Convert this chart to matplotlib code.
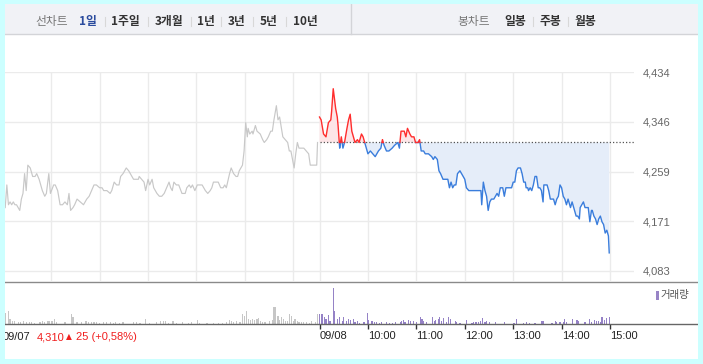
import numpy as np
import matplotlib
matplotlib.use("Agg")
import matplotlib.pyplot as plt
from matplotlib.patches import Rectangle
from matplotlib.lines import Line2D

plt.rcParams['font.family'] = ['Liberation Sans', 'Noto Sans CJK KR', 'DejaVu Sans']

# ---------------- data ----------------
# 09/07 (previous day) minutes after 09:00 and price
day1_min = [3, 5, 7, 9, 11, 13, 15, 17, 19, 21,
            23, 25, 27, 29, 31, 34, 37, 40, 42, 45,
            49, 52, 54, 57, 59, 63, 65, 68, 71, 74,
            77, 80, 82, 84, 87, 89, 92, 96, 100, 104,
            107, 110, 113, 116, 120, 123, 125, 129, 133, 135,
            138, 141, 144, 146, 149, 153, 156, 158, 162, 165,
            168, 169, 172, 175, 177, 180, 182, 185, 187, 191,
            194, 197, 200, 203, 206, 208, 210, 212, 215, 218,
            222, 226, 228, 231, 233, 235, 238, 241, 244, 247,
            251, 254, 257, 259, 261, 264, 267, 270, 273, 275,
            277, 281, 283, 286, 289, 291, 293, 295, 297, 299,
            301, 303, 304, 306, 309, 310, 313, 315, 319, 322,
            324, 327, 329, 332, 334, 336, 339, 341, 343, 347,
            350, 353, 355, 357, 359, 361, 363, 365, 367, 370,
            373, 376, 379, 381, 385, 389, 390]
day1_price = [4195, 4235, 4200, 4205, 4200, 4205, 4200, 4200, 4195, 4190,
              4210, 4220, 4255, 4225, 4270, 4265, 4250, 4250, 4255, 4245,
              4225, 4215, 4220, 4255, 4220, 4235, 4235, 4225, 4200, 4200,
              4205, 4200, 4220, 4190, 4195, 4200, 4210, 4205, 4200, 4210,
              4215, 4225, 4235, 4235, 4230, 4230, 4225, 4225, 4220, 4225,
              4240, 4235, 4235, 4250, 4255, 4265, 4260, 4255, 4245, 4245,
              4245, 4250, 4245, 4240, 4225, 4245, 4235, 4245, 4230, 4220,
              4215, 4215, 4220, 4230, 4240, 4230, 4225, 4240, 4235, 4235,
              4220, 4220, 4230, 4235, 4230, 4235, 4225, 4235, 4235, 4235,
              4225, 4220, 4225, 4230, 4240, 4240, 4240, 4230, 4230, 4235,
              4230, 4255, 4265, 4255, 4250, 4250, 4260, 4265, 4270, 4295,
              4345, 4320, 4335, 4325, 4330, 4325, 4340, 4330, 4325, 4315,
              4310, 4315, 4320, 4330, 4330, 4350, 4375, 4350, 4355, 4320,
              4315, 4310, 4295, 4295, 4280, 4265, 4290, 4310, 4300, 4300,
              4300, 4295, 4290, 4270, 4270, 4270, 4310]

# 09/08 (today)
day2_min = [0, 2, 5, 8, 11, 14, 15, 17, 20, 22,
            23, 25, 26, 27, 29, 31, 34, 36, 38, 40,
            42, 44, 47, 49, 52, 54, 56, 58, 60, 63,
            66, 69, 73, 76, 78, 80, 83, 86, 90, 93,
            97, 99, 101, 105, 107, 109, 112, 114, 117, 119,
            122, 124, 126, 129, 131, 135, 139, 141, 143, 146,
            148, 150, 153, 157, 159, 161, 163, 165, 167, 169,
            171, 174, 176, 178, 180, 182, 185, 188, 191, 194,
            197, 200, 201, 203, 205, 207, 209, 211, 213, 216,
            218, 220, 222, 224, 227, 229, 231, 234, 238, 240,
            242, 244, 246, 249, 251, 253, 255, 256, 258, 259,
            261, 263, 265, 267, 269, 271, 273, 275, 277, 278,
            282, 284, 286, 288, 290, 292, 294, 296, 298, 300,
            302, 304, 306, 308, 311, 313, 315, 317, 318, 320,
            322, 323, 325, 327, 329, 331, 333, 335, 337, 338,
            340, 342, 344, 346, 348, 350, 352, 354, 356, 358,
            359]
day2_price = [4355, 4350, 4325, 4320, 4345, 4350, 4365, 4405, 4370, 4355,
              4340, 4300, 4310, 4320, 4300, 4310, 4335, 4350, 4360, 4330,
              4320, 4310, 4315, 4310, 4325, 4320, 4310, 4300, 4290, 4295,
              4290, 4285, 4295, 4300, 4315, 4305, 4295, 4295, 4300, 4305,
              4310, 4300, 4330, 4330, 4320, 4335, 4325, 4320, 4320, 4310,
              4310, 4315, 4295, 4295, 4290, 4290, 4285, 4280, 4285, 4280,
              4260, 4255, 4245, 4245, 4245, 4230, 4240, 4230, 4235, 4235,
              4255, 4260, 4255, 4250, 4245, 4230, 4225, 4225, 4225, 4225,
              4225, 4225, 4200, 4240, 4225, 4215, 4190, 4205, 4210, 4210,
              4215, 4220, 4215, 4230, 4230, 4215, 4230, 4230, 4230, 4240,
              4240, 4260, 4265, 4265, 4255, 4240, 4240, 4230, 4230, 4225,
              4230, 4225, 4235, 4250, 4250, 4230, 4230, 4225, 4205, 4235,
              4235, 4225, 4210, 4210, 4210, 4200, 4210, 4215, 4235, 4230,
              4215, 4210, 4200, 4210, 4195, 4205, 4195, 4185, 4180, 4180,
              4175, 4195, 4200, 4205, 4195, 4195, 4195, 4170, 4190, 4190,
              4180, 4175, 4165, 4175, 4180, 4170, 4165, 4150, 4155, 4145,
              4115]

prev_close = 4310

# volume (relative units)
vol1_min = [3, 7, 9, 12, 15, 19, 22, 26, 29, 33,
            36, 39, 46, 49, 52, 56, 58, 61, 64, 67,
            77, 85, 87, 92, 98, 103, 106, 110, 113, 116,
            120, 125, 129, 133, 137, 140, 145, 149, 162, 166,
            170, 177, 182, 190, 195, 199, 202, 205, 211, 215,
            223, 230, 234, 241, 244, 253, 261, 267, 272, 277,
            281, 283, 286, 290, 294, 297, 300, 302, 304, 307,
            309, 312, 315, 317, 319, 322, 325, 331, 334, 336,
            338, 341, 343, 345, 348, 350, 353, 355, 358, 360,
            362, 365, 367, 370, 373, 376, 380, 383, 387, 390]
vol1 = [33, 38, 15, 10, 8, 5, 6, 8, 5, 5,
        5, 4, 6, 8, 5, 8, 10, 10, 14, 5,
        5, 30, 20, 5, 6, 8, 6, 6, 5, 5,
        4, 5, 5, 5, 4, 7, 4, 5, 6, 5,
        4, 15, 4, 5, 8, 10, 8, 4, 8, 4,
        5, 4, 5, 12, 4, 4, 4, 4, 4, 5,
        13, 8, 5, 8, 5, 30, 25, 38, 15, 12,
        15, 12, 15, 18, 10, 6, 5, 10, 12, 52,
        50, 25, 12, 20, 15, 10, 8, 30, 25, 10,
        15, 8, 6, 6, 5, 5, 4, 10, 5, 30]
vol2_min = [0, 3, 6, 8, 11, 13, 17, 19, 22, 25,
            28, 30, 33, 36, 38, 42, 44, 47, 50, 54,
            56, 59, 61, 65, 68, 71, 74, 77, 83, 87,
            90, 94, 100, 102, 104, 106, 110, 113, 116, 120,
            125, 127, 129, 133, 140, 142, 144, 147, 149, 151,
            154, 157, 160, 162, 168, 170, 174, 182, 189, 191,
            194, 197, 200, 202, 205, 207, 211, 218, 229, 241,
            244, 253, 257, 260, 267, 275, 277, 288, 292, 294,
            298, 302, 304, 306, 314, 319, 321, 329, 335, 337,
            341, 343, 346, 348, 350, 353, 356, 359]
vol2 = [30, 30, 20, 15, 28, 10, 108, 40, 15, 22,
        10, 20, 10, 15, 12, 15, 5, 8, 4, 6,
        5, 32, 12, 8, 5, 5, 4, 5, 5, 4,
        3, 5, 6, 8, 12, 5, 12, 8, 10, 5,
        22, 15, 8, 5, 22, 10, 12, 15, 20, 8,
        18, 5, 20, 15, 8, 5, 4, 12, 4, 6,
        5, 6, 8, 18, 5, 10, 6, 5, 5, 4,
        15, 3, 6, 4, 3, 8, 10, 4, 8, 5,
        5, 6, 15, 5, 14, 12, 10, 6, 15, 5,
        12, 8, 10, 6, 20, 12, 18, 22]

ytick_vals = [4083, 4170.75, 4258.5, 4346.25, 4434]
ytick_labels = ['4,083', '4,171', '4,259', '4,346', '4,434']
day2_hours = [0, 60, 120, 180, 240, 300, 360]
xtick_labels = ['09/08', '10:00', '11:00', '12:00', '13:00', '14:00', '15:00']

header_left = ['1일', '1주일', '3개월', '1년', '3년', '5년', '10년']
header_right = ['일봉', '주봉', '월봉']
info_price = '4,310'
info_change = '25 (+0,58%)'

# ---------------- layout helpers ----------------
W, H = 703, 364
fig = plt.figure(figsize=(W / 100, H / 100), dpi=100)
fig.patch.set_facecolor('white')


def fx(x):
    return x / W


def fy(y):
    return 1 - y / H


GAP = 0.041


def t1(m):
    return np.asarray(m, dtype=float) / 60.0


def t2(m):
    return 6.5 + GAP + np.asarray(m, dtype=float) / 60.0


XL = (0.0454, 13.036)

# ---------------- price panel ----------------
ax = fig.add_axes([fx(5), fy(281), fx(634) - fx(5), fy(72.3) - fy(281)])
ax.set_xlim(*XL)
ax.set_ylim(4065.3, 4434)
for s in ax.spines.values():
    s.set_visible(False)
grid_x = list(t1([60, 120, 180, 240, 300, 360])) + list(t2(day2_hours))
ax.set_xticks(grid_x)
ax.set_xticklabels([])
ax.tick_params(axis='x', length=0)
ax.set_yticks(ytick_vals)
ax.set_yticklabels(ytick_labels)
ax.yaxis.tick_right()
ax.tick_params(axis='y', length=0, pad=6.5, labelcolor='#666666', labelsize=8)
ax.grid(True, color='#ebebeb', lw=1)
ax.set_axisbelow(True)

# previous day
ax.plot(t1(day1_min), day1_price, color='#c8c8c8', lw=0.85, zorder=3)

# today, split around previous close
x2 = t2(day2_min)
y2 = np.asarray(day2_price, dtype=float)
xs, ys = [x2[0]], [y2[0]]
for i in range(1, len(x2)):
    a, b = y2[i - 1], y2[i]
    if (a - prev_close) * (b - prev_close) < 0:
        t = (prev_close - a) / (b - a)
        xs.append(x2[i - 1] + t * (x2[i] - x2[i - 1]))
        ys.append(prev_close)
    xs.append(x2[i])
    ys.append(b)
xs = np.array(xs)
ys = np.array(ys)

ax.fill_between(xs, ys, prev_close, where=ys >= prev_close, color='#fde5e7', lw=0, zorder=2)
ax.fill_between(xs, ys, prev_close, where=ys <= prev_close, color='#e5edf9', lw=0, zorder=2)
ax.plot([x2[0], XL[1]], [prev_close, prev_close], color='#555555', lw=0.9,
        ls=(0, (1, 1.6)), zorder=3)
ax.plot(xs, np.where(ys <= prev_close, ys, np.nan), color='#3a7ddc', lw=1.0, zorder=4)
ax.plot(xs, np.where(ys >= prev_close, ys, np.nan), color='#ff2d2d', lw=1.0, zorder=5)

# ---------------- volume panel ----------------
axv = fig.add_axes([fx(5), fy(324), fx(634) - fx(5), fy(282) - fy(324)])
axv.set_xlim(*XL)
axv.set_ylim(0, 126)
for s in axv.spines.values():
    s.set_visible(False)
axv.patch.set_alpha(0)
axv.bar(t1(vol1_min), vol1, width=0.024, color='#c6c6c6', lw=0, antialiased=False)
axv.bar(t2(vol2_min), vol2, width=0.024, color='#9582c6', lw=0, antialiased=False)
axv.set_yticks([])
axv.set_xticks(list(t2(day2_hours)))
axv.set_xticklabels(xtick_labels)
axv.tick_params(axis='x', direction='out', length=3.7, width=1, color='#333333',
                labelsize=8, labelcolor='#222222', pad=1.6)
for lab in axv.get_xticklabels():
    lab.set_horizontalalignment('left')

# panel lines
fig.add_artist(Line2D([fx(5), fx(697)], [fy(281.5), fy(281.5)], color='#8a8a8a', lw=1))
fig.add_artist(Line2D([fx(5), fx(697)], [fy(324.3), fy(324.3)], color='#666666', lw=1))

# volume legend
fig.add_artist(Rectangle((fx(656), fy(299.5)), fx(3), 8.5 / H, color='#9884c6', lw=0))
fig.text(fx(660), fy(295), '거래량', fontsize=7.5, color='#555555', va='center', ha='left',
         family=['Noto Sans CJK KR', 'DejaVu Sans'])

# bottom info
fig.text(fx(2.3), fy(337.5), '09/07', fontsize=8, color='#222222', va='center', ha='left')
fig.text(fx(36.5), fy(337.5), info_price, fontsize=8, color='#f01e1e', va='center', ha='left')
fig.text(fx(66.3), fy(336.8), '▲', fontsize=5.5, color='#f01e1e', va='center', ha='left',
         family=['DejaVu Sans'])
fig.text(fx(75.5), fy(337.5), info_change, fontsize=8, color='#f01e1e', va='center', ha='left')

# ---------------- header ----------------
fig.add_artist(Rectangle((fx(5), fy(34)), fx(693), 30 / H, facecolor='#f1f2f6', lw=0))
fig.add_artist(Line2D([fx(5), fx(698)], [fy(34), fy(34)], color='#d3d4d8', lw=1))
fig.add_artist(Line2D([fx(350.5), fx(350.5)], [fy(4), fy(34)], color='#d3d4d8', lw=1))

kr = ['Noto Sans CJK KR', 'DejaVu Sans']
hy = fy(21)
fig.text(fx(35.5), hy, '선차트', fontsize=8.5, color='#777777', va='center', ha='left', family=kr)
left_x = [79.5, 111.5, 154.5, 196.5, 227.5, 259.5, 292.5]
for i, (lab, x) in enumerate(zip(header_left, left_x)):
    fig.text(fx(x), hy, lab, fontsize=8.5, fontweight='bold',
             color='#2b4c9e' if i == 0 else '#333333', va='center', ha='left', family=kr)
for x in [105, 148, 191, 221, 253, 286, 533, 568]:
    fig.add_artist(Line2D([fx(x), fx(x)], [fy(16.5), fy(26)], color='#d8d8d8', lw=0.8))
fig.text(fx(457.5), hy, '봉차트', fontsize=8.5, color='#777777', va='center', ha='left', family=kr)
for lab, x in zip(header_right, [504.5, 539.5, 574.5]):
    fig.text(fx(x), hy, lab, fontsize=8.5, fontweight='bold', color='#333333',
             va='center', ha='left', family=kr)

# ---------------- cyan frame ----------------
cy = '#ccffff'
for (x, y, w, h) in [(0, 0, 703, 4), (0, 0, 5, 364), (698, 0, 5, 364), (0, 359, 703, 5)]:
    fig.add_artist(Rectangle((fx(x), fy(y + h)), w / W, h / H, facecolor=cy, lw=0, zorder=50))

fig.savefig('out.png', dpi=100, facecolor=fig.get_facecolor())
